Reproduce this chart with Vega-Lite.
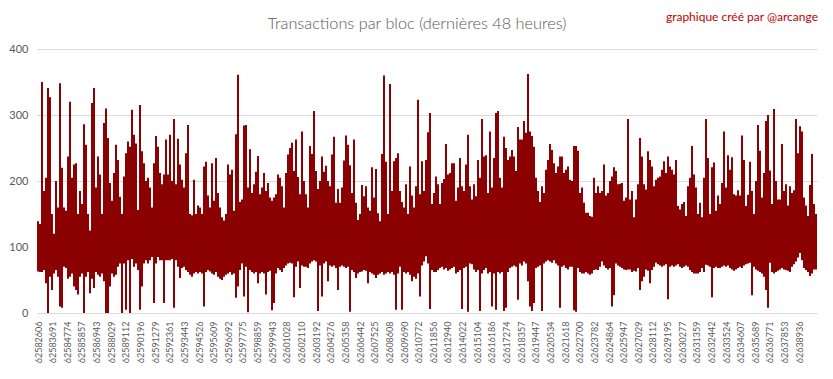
{
"$schema": "https://vega.github.io/schema/vega-lite/v6.json",
"width": 780, "height": 264,
"autosize": {"type": "none"},
"padding": {"left": 37, "top": 49, "right": 16, "bottom": 66},
"background": "white",
"title": {"text": "Transactions par bloc (dernières 48 heures)", "font": "Lato", "fontWeight": 300, "fontSize": 16.3, "color": "#595959", "anchor": "middle", "dx": -10, "offset": -21},
"config": {"view": {"stroke": null}},
"layer": [
{"data": {"values": [
{"b":62582606,"lo":63,"hi":139},{"b":62582754,"lo":62,"hi":135},{"b":62582902,"lo":62,"hi":350},{"b":62583050,"lo":65,"hi":185},{"b":62583198,"lo":45,"hi":205},{"b":62583346,"lo":0,"hi":341},{"b":62583494,"lo":55,"hi":327},{"b":62583642,"lo":35,"hi":150},{"b":62583790,"lo":60,"hi":120},{"b":62583938,"lo":65,"hi":200},
{"b":62584086,"lo":55,"hi":160},{"b":62584234,"lo":10,"hi":348},{"b":62584382,"lo":8,"hi":220},{"b":62584530,"lo":70,"hi":160},{"b":62584678,"lo":68,"hi":155},{"b":62584826,"lo":52,"hi":237},{"b":62584974,"lo":55,"hi":320},{"b":62585122,"lo":60,"hi":205},{"b":62585270,"lo":40,"hi":225},{"b":62585418,"lo":35,"hi":227},
{"b":62585566,"lo":28,"hi":150},{"b":62585714,"lo":55,"hi":185},{"b":62585862,"lo":60,"hi":165},{"b":62586010,"lo":0,"hi":286},{"b":62586158,"lo":55,"hi":255},{"b":62586306,"lo":62,"hi":150},{"b":62586454,"lo":30,"hi":125},{"b":62586602,"lo":52,"hi":318},{"b":62586750,"lo":38,"hi":341},{"b":62586898,"lo":62,"hi":190},
{"b":62587046,"lo":58,"hi":237},{"b":62587194,"lo":55,"hi":210},{"b":62587342,"lo":60,"hi":150},{"b":62587490,"lo":48,"hi":288},{"b":62587638,"lo":0,"hi":310},{"b":62587786,"lo":0,"hi":265},{"b":62587934,"lo":40,"hi":197},{"b":62588082,"lo":60,"hi":170},{"b":62588230,"lo":55,"hi":212},{"b":62588378,"lo":58,"hi":255},
{"b":62588526,"lo":70,"hi":232},{"b":62588674,"lo":75,"hi":176},{"b":62588822,"lo":0,"hi":150},{"b":62588970,"lo":75,"hi":207},{"b":62589118,"lo":5,"hi":242},{"b":62589266,"lo":80,"hi":260},{"b":62589414,"lo":0,"hi":252},{"b":62589562,"lo":82,"hi":308},{"b":62589710,"lo":70,"hi":270},{"b":62589858,"lo":75,"hi":257},
{"b":62590006,"lo":65,"hi":156},{"b":62590154,"lo":5,"hi":315},{"b":62590302,"lo":40,"hi":245},{"b":62590450,"lo":75,"hi":227},{"b":62590598,"lo":80,"hi":200},{"b":62590746,"lo":75,"hi":205},{"b":62590894,"lo":80,"hi":190},{"b":62591042,"lo":85,"hi":160},{"b":62591190,"lo":15,"hi":227},{"b":62591338,"lo":75,"hi":268},
{"b":62591486,"lo":85,"hi":252},{"b":62591634,"lo":80,"hi":212},{"b":62591782,"lo":80,"hi":195},{"b":62591930,"lo":15,"hi":210},{"b":62592078,"lo":80,"hi":263},{"b":62592226,"lo":80,"hi":210},{"b":62592374,"lo":80,"hi":270},{"b":62592522,"lo":82,"hi":200},{"b":62592670,"lo":8,"hi":294},{"b":62592818,"lo":80,"hi":195},
{"b":62592966,"lo":70,"hi":264},{"b":62593114,"lo":53,"hi":225},{"b":62593262,"lo":68,"hi":202},{"b":62593410,"lo":70,"hi":190},{"b":62593558,"lo":65,"hi":242},{"b":62593706,"lo":62,"hi":285},{"b":62593854,"lo":58,"hi":150},{"b":62594002,"lo":55,"hi":148},{"b":62594150,"lo":60,"hi":202},{"b":62594298,"lo":62,"hi":150},
{"b":62594446,"lo":60,"hi":163},{"b":62594594,"lo":62,"hi":160},{"b":62594742,"lo":60,"hi":150},{"b":62594890,"lo":10,"hi":222},{"b":62595038,"lo":62,"hi":229},{"b":62595186,"lo":65,"hi":178},{"b":62595334,"lo":63,"hi":160},{"b":62595482,"lo":60,"hi":227},{"b":62595630,"lo":58,"hi":170},{"b":62595778,"lo":62,"hi":235},
{"b":62595926,"lo":55,"hi":182},{"b":62596074,"lo":52,"hi":160},{"b":62596222,"lo":50,"hi":145},{"b":62596370,"lo":55,"hi":140},{"b":62596518,"lo":58,"hi":150},{"b":62596666,"lo":60,"hi":225},{"b":62596814,"lo":62,"hi":210},{"b":62596962,"lo":58,"hi":217},{"b":62597110,"lo":60,"hi":155},{"b":62597258,"lo":23,"hi":271},
{"b":62597406,"lo":40,"hi":361},{"b":62597554,"lo":65,"hi":168},{"b":62597702,"lo":75,"hi":172},{"b":62597850,"lo":25,"hi":284},{"b":62597998,"lo":70,"hi":285},{"b":62598146,"lo":1,"hi":190},{"b":62598294,"lo":65,"hi":248},{"b":62598442,"lo":62,"hi":182},{"b":62598590,"lo":60,"hi":195},{"b":62598738,"lo":62,"hi":214},
{"b":62598886,"lo":45,"hi":238},{"b":62599034,"lo":60,"hi":180},{"b":62599182,"lo":62,"hi":190},{"b":62599330,"lo":60,"hi":212},{"b":62599478,"lo":28,"hi":185},{"b":62599626,"lo":62,"hi":197},{"b":62599774,"lo":64,"hi":175},{"b":62599922,"lo":4,"hi":170},{"b":62600070,"lo":15,"hi":175},{"b":62600218,"lo":60,"hi":180},
{"b":62600366,"lo":68,"hi":210},{"b":62600514,"lo":65,"hi":205},{"b":62600662,"lo":62,"hi":192},{"b":62600810,"lo":68,"hi":160},{"b":62600958,"lo":72,"hi":212},{"b":62601106,"lo":75,"hi":240},{"b":62601254,"lo":76,"hi":250},{"b":62601402,"lo":75,"hi":258},{"b":62601550,"lo":24,"hi":215},{"b":62601698,"lo":70,"hi":263},
{"b":62601846,"lo":78,"hi":206},{"b":62601994,"lo":38,"hi":180},{"b":62602142,"lo":72,"hi":275},{"b":62602290,"lo":70,"hi":200},{"b":62602438,"lo":70,"hi":180},{"b":62602586,"lo":68,"hi":160},{"b":62602734,"lo":75,"hi":253},{"b":62602882,"lo":78,"hi":241},{"b":62603030,"lo":80,"hi":306},{"b":62603178,"lo":78,"hi":215},
{"b":62603326,"lo":3,"hi":188},{"b":62603474,"lo":72,"hi":200},{"b":62603622,"lo":25,"hi":237},{"b":62603770,"lo":75,"hi":214},{"b":62603918,"lo":78,"hi":223},{"b":62604066,"lo":48,"hi":200},{"b":62604214,"lo":72,"hi":192},{"b":62604362,"lo":70,"hi":240},{"b":62604510,"lo":72,"hi":267},{"b":62604658,"lo":68,"hi":167},
{"b":62604806,"lo":35,"hi":188},{"b":62604954,"lo":70,"hi":167},{"b":62605102,"lo":72,"hi":190},{"b":62605250,"lo":70,"hi":231},{"b":62605398,"lo":68,"hi":269},{"b":62605546,"lo":70,"hi":255},{"b":62605694,"lo":2,"hi":224},{"b":62605842,"lo":65,"hi":182},{"b":62605990,"lo":62,"hi":263},{"b":62606138,"lo":53,"hi":167},
{"b":62606286,"lo":60,"hi":141},{"b":62606434,"lo":62,"hi":150},{"b":62606582,"lo":63,"hi":194},{"b":62606730,"lo":65,"hi":177},{"b":62606878,"lo":64,"hi":192},{"b":62607026,"lo":45,"hi":160},{"b":62607174,"lo":62,"hi":155},{"b":62607322,"lo":60,"hi":221},{"b":62607470,"lo":58,"hi":175},{"b":62607618,"lo":53,"hi":218},
{"b":62607766,"lo":58,"hi":151},{"b":62607914,"lo":60,"hi":139},{"b":62608062,"lo":62,"hi":241},{"b":62608210,"lo":58,"hi":360},{"b":62608358,"lo":60,"hi":229},{"b":62608506,"lo":62,"hi":150},{"b":62608654,"lo":60,"hi":347},{"b":62608802,"lo":62,"hi":185},{"b":62608950,"lo":58,"hi":230},{"b":62609098,"lo":5,"hi":235},
{"b":62609246,"lo":60,"hi":242},{"b":62609394,"lo":70,"hi":185},{"b":62609542,"lo":5,"hi":168},{"b":62609690,"lo":62,"hi":160},{"b":62609838,"lo":60,"hi":195},{"b":62609986,"lo":62,"hi":150},{"b":62610134,"lo":58,"hi":222},{"b":62610282,"lo":48,"hi":178},{"b":62610430,"lo":55,"hi":160},{"b":62610578,"lo":52,"hi":192},
{"b":62610726,"lo":60,"hi":323},{"b":62610874,"lo":25,"hi":180},{"b":62611022,"lo":72,"hi":230},{"b":62611170,"lo":78,"hi":185},{"b":62611318,"lo":86,"hi":232},{"b":62611466,"lo":75,"hi":274},{"b":62611614,"lo":6,"hi":303},{"b":62611762,"lo":65,"hi":165},{"b":62611910,"lo":62,"hi":182},{"b":62612058,"lo":62,"hi":207},
{"b":62612206,"lo":65,"hi":195},{"b":62612354,"lo":68,"hi":165},{"b":62612502,"lo":70,"hi":197},{"b":62612650,"lo":66,"hi":203},{"b":62612798,"lo":68,"hi":256},{"b":62612946,"lo":64,"hi":210},{"b":62613094,"lo":66,"hi":212},{"b":62613242,"lo":68,"hi":227},{"b":62613390,"lo":70,"hi":227},{"b":62613538,"lo":60,"hi":170},
{"b":62613686,"lo":62,"hi":190},{"b":62613834,"lo":65,"hi":235},{"b":62613982,"lo":6,"hi":192},{"b":62614130,"lo":68,"hi":185},{"b":62614278,"lo":70,"hi":225},{"b":62614426,"lo":2,"hi":270},{"b":62614574,"lo":75,"hi":192},{"b":62614722,"lo":74,"hi":172},{"b":62614870,"lo":66,"hi":195},{"b":62615018,"lo":62,"hi":177},
{"b":62615166,"lo":65,"hi":232},{"b":62615314,"lo":3,"hi":205},{"b":62615462,"lo":60,"hi":294},{"b":62615610,"lo":65,"hi":237},{"b":62615758,"lo":68,"hi":239},{"b":62615906,"lo":60,"hi":182},{"b":62616054,"lo":62,"hi":275},{"b":62616202,"lo":10,"hi":190},{"b":62616350,"lo":60,"hi":235},{"b":62616498,"lo":5,"hi":303},
{"b":62616646,"lo":62,"hi":306},{"b":62616794,"lo":60,"hi":205},{"b":62616942,"lo":62,"hi":190},{"b":62617090,"lo":3,"hi":267},{"b":62617238,"lo":8,"hi":250},{"b":62617386,"lo":62,"hi":232},{"b":62617534,"lo":68,"hi":237},{"b":62617682,"lo":70,"hi":247},{"b":62617830,"lo":72,"hi":237},{"b":62617978,"lo":70,"hi":215},
{"b":62618126,"lo":20,"hi":282},{"b":62618274,"lo":75,"hi":263},{"b":62618422,"lo":72,"hi":263},{"b":62618570,"lo":78,"hi":291},{"b":62618718,"lo":75,"hi":273},{"b":62618866,"lo":48,"hi":362},{"b":62619014,"lo":10,"hi":275},{"b":62619162,"lo":3,"hi":268},{"b":62619310,"lo":15,"hi":252},{"b":62619458,"lo":68,"hi":205},
{"b":62619606,"lo":70,"hi":185},{"b":62619754,"lo":72,"hi":168},{"b":62619902,"lo":3,"hi":192},{"b":62620050,"lo":75,"hi":182},{"b":62620198,"lo":78,"hi":217},{"b":62620346,"lo":80,"hi":232},{"b":62620494,"lo":78,"hi":256},{"b":62620642,"lo":76,"hi":247},{"b":62620790,"lo":80,"hi":227},{"b":62620938,"lo":75,"hi":212},
{"b":62621086,"lo":72,"hi":222},{"b":62621234,"lo":8,"hi":237},{"b":62621382,"lo":70,"hi":237},{"b":62621530,"lo":72,"hi":212},{"b":62621678,"lo":68,"hi":217},{"b":62621826,"lo":66,"hi":222},{"b":62621974,"lo":70,"hi":202},{"b":62622122,"lo":70,"hi":200},{"b":62622270,"lo":4,"hi":253},{"b":62622418,"lo":2,"hi":253},
{"b":62622566,"lo":68,"hi":246},{"b":62622714,"lo":62,"hi":182},{"b":62622862,"lo":60,"hi":190},{"b":62623010,"lo":60,"hi":167},{"b":62623158,"lo":62,"hi":152},{"b":62623306,"lo":60,"hi":152},{"b":62623454,"lo":58,"hi":147},{"b":62623602,"lo":60,"hi":146},{"b":62623750,"lo":65,"hi":205},{"b":62623898,"lo":66,"hi":182},
{"b":62624046,"lo":65,"hi":192},{"b":62624194,"lo":70,"hi":182},{"b":62624342,"lo":78,"hi":185},{"b":62624490,"lo":72,"hi":225},{"b":62624638,"lo":68,"hi":178},{"b":62624786,"lo":66,"hi":182},{"b":62624934,"lo":68,"hi":200},{"b":62625082,"lo":10,"hi":207},{"b":62625230,"lo":27,"hi":221},{"b":62625378,"lo":75,"hi":215},
{"b":62625526,"lo":72,"hi":195},{"b":62625674,"lo":70,"hi":196},{"b":62625822,"lo":68,"hi":197},{"b":62625970,"lo":66,"hi":170},{"b":62626118,"lo":65,"hi":175},{"b":62626266,"lo":66,"hi":294},{"b":62626414,"lo":66,"hi":172},{"b":62626562,"lo":62,"hi":185},{"b":62626710,"lo":64,"hi":145},{"b":62626858,"lo":63,"hi":172},
{"b":62627006,"lo":68,"hi":195},{"b":62627154,"lo":35,"hi":265},{"b":62627302,"lo":48,"hi":237},{"b":62627450,"lo":55,"hi":195},{"b":62627598,"lo":66,"hi":187},{"b":62627746,"lo":64,"hi":245},{"b":62627894,"lo":45,"hi":232},{"b":62628042,"lo":65,"hi":222},{"b":62628190,"lo":70,"hi":192},{"b":62628338,"lo":76,"hi":202},
{"b":62628486,"lo":74,"hi":205},{"b":62628634,"lo":72,"hi":207},{"b":62628782,"lo":70,"hi":217},{"b":62628930,"lo":72,"hi":230},{"b":62629078,"lo":74,"hi":212},{"b":62629226,"lo":21,"hi":237},{"b":62629374,"lo":70,"hi":222},{"b":62629522,"lo":72,"hi":217},{"b":62629670,"lo":70,"hi":210},{"b":62629818,"lo":72,"hi":232},
{"b":62629966,"lo":74,"hi":162},{"b":62630114,"lo":70,"hi":157},{"b":62630262,"lo":68,"hi":165},{"b":62630410,"lo":70,"hi":168},{"b":62630558,"lo":72,"hi":147},{"b":62630706,"lo":70,"hi":192},{"b":62630854,"lo":65,"hi":205},{"b":62631002,"lo":62,"hi":253},{"b":62631150,"lo":60,"hi":210},{"b":62631298,"lo":60,"hi":190},
{"b":62631446,"lo":60,"hi":150},{"b":62631594,"lo":62,"hi":167},{"b":62631742,"lo":68,"hi":145},{"b":62631890,"lo":62,"hi":205},{"b":62632038,"lo":73,"hi":294},{"b":62632186,"lo":72,"hi":235},{"b":62632334,"lo":70,"hi":150},{"b":62632482,"lo":24,"hi":221},{"b":62632630,"lo":68,"hi":228},{"b":62632778,"lo":70,"hi":155},
{"b":62632926,"lo":68,"hi":178},{"b":62633074,"lo":68,"hi":165},{"b":62633222,"lo":70,"hi":197},{"b":62633370,"lo":72,"hi":275},{"b":62633518,"lo":70,"hi":190},{"b":62633666,"lo":72,"hi":239},{"b":62633814,"lo":68,"hi":217},{"b":62633962,"lo":66,"hi":236},{"b":62634110,"lo":64,"hi":180},{"b":62634258,"lo":66,"hi":178},
{"b":62634406,"lo":68,"hi":186},{"b":62634554,"lo":70,"hi":178},{"b":62634702,"lo":68,"hi":269},{"b":62634850,"lo":72,"hi":232},{"b":62634998,"lo":74,"hi":162},{"b":62635146,"lo":75,"hi":179},{"b":62635294,"lo":76,"hi":229},{"b":62635442,"lo":27,"hi":185},{"b":62635590,"lo":70,"hi":150},{"b":62635738,"lo":66,"hi":200},
{"b":62635886,"lo":64,"hi":285},{"b":62636034,"lo":62,"hi":246},{"b":62636182,"lo":60,"hi":175},{"b":62636330,"lo":55,"hi":212},{"b":62636478,"lo":35,"hi":291},{"b":62636626,"lo":8,"hi":300},{"b":62636774,"lo":76,"hi":216},{"b":62636922,"lo":62,"hi":165},{"b":62637070,"lo":60,"hi":309},{"b":62637218,"lo":62,"hi":200},
{"b":62637366,"lo":64,"hi":172},{"b":62637514,"lo":66,"hi":172},{"b":62637662,"lo":68,"hi":256},{"b":62637810,"lo":66,"hi":185},{"b":62637958,"lo":65,"hi":195},{"b":62638106,"lo":64,"hi":163},{"b":62638254,"lo":62,"hi":192},{"b":62638402,"lo":70,"hi":182},{"b":62638550,"lo":74,"hi":186},{"b":62638698,"lo":78,"hi":294},
{"b":62638846,"lo":84,"hi":242},{"b":62638994,"lo":91,"hi":283},{"b":62639142,"lo":80,"hi":275},{"b":62639290,"lo":68,"hi":175},{"b":62639438,"lo":65,"hi":163},{"b":62639586,"lo":62,"hi":147},{"b":62639734,"lo":56,"hi":194},{"b":62639882,"lo":60,"hi":241},{"b":62640030,"lo":66,"hi":165},{"b":62640178,"lo":66,"hi":150}
]},
"mark": {"type": "rule", "color": "#8B0000", "strokeWidth": 2},
"encoding": {
"x": {"field": "b", "type": "quantitative", "scale": {"domain": [62582532, 62640252], "nice": false, "zero": false},
 "axis": {"title": null, "values": [62582606,62583691,62584774,62585857,62586943,62588029,62589112,62590196,62591279,62592361,62593443,62594526,62595609,62596692,62597775,62598859,62599943,62601028,62602110,62603192,62604276,62605358,62606442,62607525,62608608,62609690,62610772,62611856,62612940,62614022,62615104,62616186,62617274,62618357,62619447,62620534,62621618,62622700,62623782,62624864,62625947,62627029,62628112,62629195,62630277,62631359,62632442,62633524,62634607,62635689,62636771,62637853,62638936],
 "tickCount": 80, "format": "d", "labelAngle": -90, "grid": false, "ticks": false, "domain": true, "domainColor": "#D9D9D9", "labelFont": "Lato", "labelFontSize": 9, "labelColor": "#595959", "labelPadding": 8, "labelOverlap": false, "labelFlush": false}},
"y": {"field": "lo", "type": "quantitative", "scale": {"domain": [0, 400], "nice": false},
 "axis": {"title": null, "values": [0,50,100,150,200,250,300,350,400], "grid": true, "gridColor": "#D9D9D9", "domain": false, "ticks": false, "labelPadding": 9, "labelFont": "Lato", "labelFontSize": 11, "labelColor": "#595959"}},
"y2": {"field": "hi"}
}},
{"data": {"values": [{"note": "graphique créé par @arcange"}]},
"mark": {"type": "text", "align": "right", "baseline": "middle", "color": "#C00000", "font": "Lato", "fontSize": 12, "clip": false},
"encoding": {"text": {"field": "note"}, "x": {"datum": 62640326}, "y": {"datum": 448}}}
]
}
